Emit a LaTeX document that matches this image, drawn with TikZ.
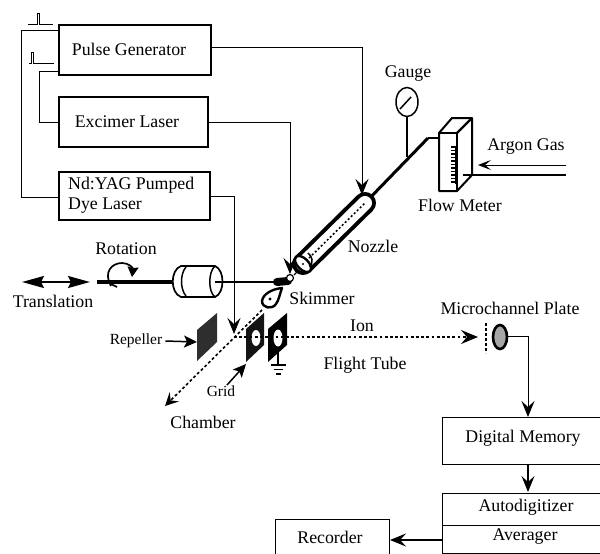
\documentclass[tikz,border=0pt]{standalone}
\usepackage{fontspec}
\setmainfont{Liberation Serif}
\usetikzlibrary{arrows.meta,shapes.geometric,calc}
\tikzset{
  x=1pt,y=-1pt,
  heavybox/.style={draw,line width=2.4pt,inner sep=0pt},
  lightbox/.style={draw,line width=1.3pt,inner sep=0pt},
  lbl/.style={font=\fontsize{17.8}{18}\selectfont,inner sep=0pt},
  smalllbl/.style={font=\fontsize{15.5}{16}\selectfont,inner sep=0pt},
  wire/.style={line width=0.95pt},
  bigtip/.style={-{Stealth[length=16pt,width=13pt,inset=6pt]}},
  medtip/.style={line width=1.5pt,-{Stealth[length=13pt,width=12pt,inset=3pt]}},
  beam/.style={line width=1.6pt,dash pattern=on 2.8pt off 2.4pt},
  thickgas/.style={line width=3pt},
}
\begin{document}
\begin{tikzpicture}
\useasboundingbox (0,0) rectangle (600,554);
\clip (0,0) rectangle (600,554);
\fill[white] (0,0) rectangle (600,554);
% control boxes
\node[heavybox,minimum width=152pt,minimum height=50pt] (pg) at (135,50) {};
\node[heavybox,minimum width=149pt,minimum height=50pt] (ex) at (133.5,122) {};
\node[heavybox,minimum width=151pt,minimum height=48pt] (nd) at (134.5,196) {};
\node[lbl] (pgt) at (129,49) {Pulse Generator};
\node[lbl] (ext) at (127,122) {Excimer Laser};
\node[lbl,anchor=west] (ndt) at (68,185) {Nd:YAG Pumped};
\node[lbl,anchor=west] (ndu) at (68,206) {Dye Laser};
% trigger wires
\coordinate (c1) at (21,30);
\coordinate (c2) at (21,197);
\coordinate (c3) at (39,71);
\coordinate (c4) at (39,122);
\draw[wire] (pg.west |- c1) -- (c1) -- (c2) -- (nd.west |- c2);
\draw[wire] (pg.west |- c3) -- (c3) -- (c4) -- (ex.west |- c4);
\draw[wire] (28,24) -- (37,24) -- (37,13) -- (39.5,13) -- (39.5,24) -- (53,24);
\draw[wire] (29,63) -- (31,63) -- (31,52) -- (33,52) -- (33,63) -- (54,63);
% gauge
\node[lbl] (gat) at (408,74) {Gauge};
\node[draw,ellipse,line width=1.5pt,minimum width=22pt,minimum height=29pt,inner sep=0pt,fill=white] (gauge) at (407,102) {};
\draw[line width=1.5pt] (400,109) -- (411,97);
\coordinate (gj) at (407,157);
\draw[line width=1.5pt] (gauge.south) -- (gj);
% nozzle
\coordinate (nza) at (303,264);
\coordinate (nzb) at (365,203);
\coordinate (fmj) at (428,138);
\draw[thickgas] (nzb) -- (fmj);
\draw[line width=1.5pt] (fmj) -- (441,138);
\draw[line width=22pt,line cap=round] (nza) -- (nzb);
\draw[line width=14pt,line cap=round,white] (nza) -- (nzb);
\draw[line width=1.5pt,dash pattern=on 2pt off 2.2pt] (nza) -- (nzb);
\draw[line width=2.4pt,fill=white,rotate around={45:(nza)}] (nza) ellipse (5.5 and 10);
\draw[line width=1.5pt] (308,253) .. controls (313,257) and (313,262) .. (310,267);
\fill (nza) circle (1.2);
% flow meter
\draw[line width=2pt,fill=white,line join=round] (439,133) -- (452,118) -- (472,118) -- (472,175) -- (457,191) -- (439,191) -- cycle;
\draw[line width=2pt] (439,133) -- (457,133) -- (457,191);
\draw[line width=2.4pt] (457,133) -- (472,118);
\foreach \yy in {147,150.5,...,183}{\draw[line width=1.3pt] (451,\yy) -- (456.5,\yy);}
\draw[line width=2.4pt] (456,148) -- (456,184);
\coordinate (fmin) at (463,175);
\coordinate (arE) at (566,175);
\draw[line width=1.9pt] (arE) -- (fmin);
\coordinate (gasE) at (566,165);
\coordinate (gasT) at (478,165);
\draw[line width=1pt,-{Stealth[length=13pt,width=10pt,inset=6pt]}] (gasE) -- (gasT);
\node[lbl] (art) at (526,147) {Argon Gas};
\node[lbl] (fmt) at (460,205) {Flow Meter};
\node[lbl] (nzt) at (373,246) {Nozzle};
% laser and pulse lines
\coordinate (pgb) at (362,47);
\coordinate (nzt2) at (362,195);
\draw[wire,bigtip] (pg.east |- pgb) -- (pgb) -- (nzt2);
\coordinate (exb) at (290,122);
\coordinate (ext2) at (290,274);
\draw[wire,bigtip] (ex.east |- exb) -- (exb) -- (ext2);
\coordinate (ndb) at (234,196);
\coordinate (ndc) at (234,334);
\draw[wire,bigtip] (nd.east |- ndb) -- (ndb) -- (ndc);
% sample rod
\coordinate (rod) at (97,282);
\coordinate (cyl) at (173,282);
\draw[line width=4.5pt] (rod) -- (cyl);
\draw[line width=1.7pt,fill=white] (181,266) -- (215,266) .. controls (225,270) and (225,293) .. (215,297) -- (181,297) .. controls (170,293) and (170,270) .. (181,266) -- cycle;
\draw[line width=1.5pt] (186,267) .. controls (180,274) and (180,289) .. (186,296);
\draw[line width=1.5pt] (215,266) .. controls (208,272) and (208,292) .. (215,297);
\coordinate (cyr) at (215,282);
\coordinate (tipb) at (275,282);
\draw[line width=1.8pt] (cyr) -- (tipb);
\draw[line width=8pt,line cap=round] (277,282) -- (288,281);
\fill[white] (290,278) circle (3.5);
\draw[line width=1.2pt] (290,278) circle (3.5);
\draw[line width=1.3pt] (294,275) -- (298,271);
\coordinate (ta) at (22,282);
\coordinate (tb) at (90,282);
\draw[line width=2pt,{Stealth[length=22pt,width=12pt,inset=3pt]}-{Stealth[length=22pt,width=12pt,inset=3pt]}] (ta) -- (tb);
\draw[line width=1.7pt,-{Stealth[length=10pt,width=11pt,inset=1pt]}] (111,286) .. controls (103,272) and (112,263) .. (122,263) .. controls (129,263) and (133,268) .. (132,277);
\draw[line width=1.7pt] (111,284) -- (117,287);
\node[lbl] (rot) at (126,249) {Rotation};
\node[lbl] (tra) at (53,301) {Translation};
% skimmer
\draw[line width=2.4pt,fill=white,line join=round] (282,288) .. controls (272,289) and (263,294) .. (262,301) .. controls (262,308) and (272,310) .. (276,304) .. controls (279,300) and (280,293) .. (282,288) -- cycle;
\fill (270,299) circle (1.7);
\node[lbl] (skt) at (322,298) {Skimmer};
% plates
\fill[black!82] (197,330) -- (217,313) -- (217,342) -- (197,361) -- cycle;
\fill[black!92] (246,329) -- (264,313) -- (264,345) -- (246,362) -- cycle;
\fill[white] (256,338) ellipse (4.5 and 8);
\fill[black] (268,329) -- (287,313) -- (287,345) -- (268,362) -- cycle;
\fill[white] (278,338) ellipse (4.5 and 8.5);
% beams
\coordinate (sk) at (262,310);
\coordinate (cross) at (234,337);
\coordinate (ch) at (165,406);
\coordinate (iontip) at (478,337);
\draw[beam,-{Stealth[length=13pt,width=13pt,inset=5pt]}] (sk) -- (ch);
\draw[beam,-{Stealth[length=17pt,width=14pt,inset=6pt]}] (cross) -- (iontip);
\node[lbl] (iont) at (362,326) {Ion};
\node[lbl] (flt) at (365,365) {Flight Tube};
\node[lbl] (mct) at (510,308) {Microchannel Plate};
\node[lbl] (cht) at (203,422) {Chamber};
\node[smalllbl] (gr) at (221,391) {Grid};
\node[smalllbl] (rep) at (136,341) {Repeller};
\coordinate (gra) at (227,385);
\coordinate (grb) at (246,364);
\draw[medtip] (gra) -- (grb);
\coordinate (repb) at (197,342);
\draw[medtip] (rep.east) ++(3,0) -- (repb);
% ground
\coordinate (g0) at (278,352);
\coordinate (g1) at (278,365);
\draw[line width=1.1pt] (g0) -- (g1);
\draw[line width=1.2pt] (271,365) -- (286,365) (274,369.5) -- (283,369.5) (276,374) -- (281,374);
% microchannel plate
\draw[line width=1.3pt,dash pattern=on 2.5pt off 2.5pt] (486,323) -- (486,353);
\node[draw,ellipse,line width=2.6pt,fill=black!35,minimum width=14pt,minimum height=24pt,inner sep=0pt] (mcp) at (500,337) {};
% lower boxes
\node[lightbox,minimum width=170pt,minimum height=47pt,anchor=north west] (dm) at (442,417) {};
\node[lightbox,minimum width=170pt,minimum height=32pt,anchor=north west] (ad) at (442,493) {};
\node[lightbox,minimum width=170pt,minimum height=28pt,anchor=north west] (av) at (442,525) {};
\node[lightbox,minimum width=114pt,minimum height=36pt,anchor=north west] (rec) at (275,519) {};
\node[lbl] (dmt) at (523,438) {Digital Memory};
\node[lbl] (adt) at (526,507) {Autodigitizer};
\node[lbl] (avt) at (525,537) {Averager};
\node[lbl] (rect) at (330,537) {Recorder};
\coordinate (mcr) at (528,336);
\coordinate (dmin) at (528,417);
\draw[wire,bigtip] (mcp.east |- mcr) -- (mcr) -- (dmin);
\coordinate (dmo) at (528,464);
\coordinate (adin) at (528,492);
\draw[line width=1.3pt,bigtip] (dmo) -- (adin);
\coordinate (avo) at (442,540);
\coordinate (reci) at (390,540);
\draw[line width=2pt,-{Stealth[length=16pt,width=13pt,inset=6pt]}] (avo) -- (reci);
\end{tikzpicture}
\end{document}
